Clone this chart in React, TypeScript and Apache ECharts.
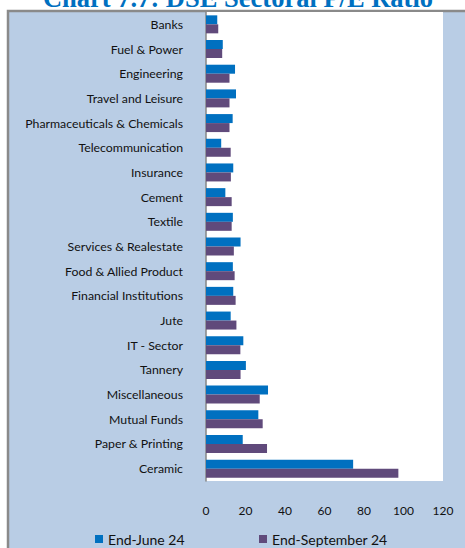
import React, { useEffect, useRef } from "react";
import * as echarts from "echarts";

const categories = [
  "Banks",
  "Fuel & Power",
  "Engineering",
  "Travel and Leisure",
  "Pharmaceuticals & Chemicals",
  "Telecommunication",
  "Insurance",
  "Cement",
  "Textile",
  "Services & Realestate",
  "Food & Allied Product",
  "Financial Institutions",
  "Jute",
  "IT - Sector",
  "Tannery",
  "Miscellaneous",
  "Mutual Funds",
  "Paper & Printing",
  "Ceramic",
];

const endJune = [5.7, 8.5, 14.7, 15.2, 13.5, 7.7, 13.8, 9.8, 13.6, 17.5, 13.6, 13.8, 12.5, 18.9, 20.2, 31.4, 26.5, 18.6, 74.5];
const endSeptember = [6.2, 8.2, 11.9, 11.9, 11.9, 12.5, 12.6, 13.0, 13.0, 14.1, 14.5, 15.0, 15.4, 17.4, 17.5, 27.2, 28.7, 30.9, 97.4];

const xTicks = [0, 20, 40, 60, 80, 100, 120];
const seriesNames = ["End-June 24", "End-September 24"];
const titleText = "Chart 7.7: DSE Sectoral P/E Ratio";

export default function App() {
  const ref = useRef<HTMLDivElement>(null);
  useEffect(() => {
    if (!ref.current) return;
    const chart = echarts.init(ref.current, undefined, { renderer: "svg" });
    const labelFont = "Lato, 'Open Sans', sans-serif";
    chart.setOption({
      animation: false,
      backgroundColor: "#ffffff",
      graphic: [
        {
          type: "rect",
          z: -10,
          silent: true,
          shape: { x: 8, y: 11, width: 480, height: 560 },
          style: { fill: "#B9CDE5", stroke: "#8a8a8a", lineWidth: 2.5 },
        },
        {
          type: "text",
          x: 238,
          y: 11,
          silent: true,
          style: {
            text: titleText,
            font: "bold 26.5px 'Liberation Serif', serif",
            fill: "#0070C0",
            align: "center",
            verticalAlign: "bottom",
          },
        },
      ],
      grid: {
        left: 206,
        right: 22,
        top: 12,
        bottom: 67,
        show: true,
        backgroundColor: "#ffffff",
        borderWidth: 0,
      },
      legend: [
        {
          data: [seriesNames[0]],
          left: 95,
          top: 532,
          padding: 0,
          itemWidth: 8,
          itemHeight: 8,
          icon: "rect",
          textStyle: { fontFamily: labelFont, fontSize: 14, color: "#111" },
        },
        {
          data: [seriesNames[1]],
          left: 259,
          top: 532,
          padding: 0,
          itemWidth: 8,
          itemHeight: 8,
          icon: "rect",
          textStyle: { fontFamily: labelFont, fontSize: 14, color: "#111" },
        },
      ],
      xAxis: {
        type: "value",
        min: xTicks[0],
        max: xTicks[xTicks.length - 1],
        interval: xTicks[1] - xTicks[0],
        axisLine: { show: false },
        axisTick: { show: false },
        splitLine: { show: false },
        axisLabel: { fontFamily: labelFont, fontSize: 12, color: "#111", margin: 23 },
      },
      yAxis: {
        type: "category",
        inverse: true,
        data: categories,
        axisLine: { show: true, lineStyle: { color: "#868686", width: 1.5 } },
        axisTick: { show: false },
        axisLabel: { fontFamily: labelFont, fontSize: 12.3, color: "#111", margin: 23 },
      },
      series: [
        {
          name: seriesNames[0],
          type: "bar",
          data: endJune,
          barWidth: 9,
          barGap: "0%",
          itemStyle: { color: "#0070C0" },
        },
        {
          name: seriesNames[1],
          type: "bar",
          data: endSeptember,
          barWidth: 9,
          barGap: "0%",
          itemStyle: { color: "#604A7B" },
        },
      ],
    });
    return () => chart.dispose();
  }, []);
  return (
    <div
      ref={ref}
      style={{ position: "fixed", left: 0, top: 0, width: 465, height: 548 }}
    />
  );
}
